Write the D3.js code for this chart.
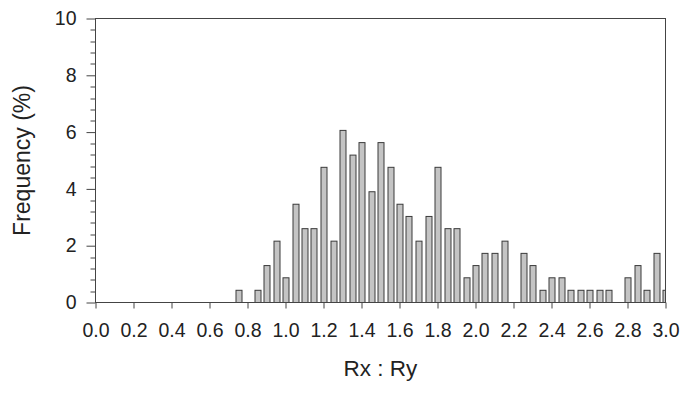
<!DOCTYPE html>
<html>
<head>
<meta charset="utf-8">
<script src="https://cdn.jsdelivr.net/npm/d3@7"></script>
<style>
  body { margin: 0; background: #fff; }
  svg { display: block; font-family: "Liberation Sans", Arial, sans-serif; }
</style>
</head>
<body>
<div id="chart"></div>
<script>
// DATA
const binCenters = [0.75, 0.85, 0.90, 0.95, 1.00, 1.05, 1.10, 1.15, 1.20, 1.25,
  1.30, 1.35, 1.40, 1.45, 1.50, 1.55, 1.60, 1.65, 1.70, 1.75,
  1.80, 1.85, 1.90, 1.95, 2.00, 2.05, 2.10, 2.15, 2.25, 2.30,
  2.35, 2.40, 2.45, 2.50, 2.55, 2.60, 2.65, 2.70, 2.80, 2.85,
  2.90, 2.95, 3.00];
const frequencies = [0.43, 0.43, 1.30, 2.16, 0.87, 3.46, 2.60, 2.60, 4.76, 2.16,
  6.06, 5.19, 5.63, 3.90, 5.63, 4.76, 3.46, 3.03, 2.16, 3.03,
  4.76, 2.60, 2.60, 0.87, 1.30, 1.73, 1.73, 2.16, 1.73, 1.30,
  0.43, 0.87, 0.87, 0.43, 0.43, 0.43, 0.43, 0.43, 0.87, 1.30,
  0.43, 1.73, 0.43];
const xTickValues = [0, 0.2, 0.4, 0.6, 0.8, 1.0, 1.2, 1.4, 1.6, 1.8, 2.0, 2.2, 2.4, 2.6, 2.8, 3.0];
const yTickValues = [0, 2, 4, 6, 8, 10];
const yMinorTicks = [0.4, 0.8, 1.2, 1.6, 2.4, 2.8, 3.2, 3.6, 4.4, 4.8, 5.2, 5.6,
  6.4, 6.8, 7.2, 7.6, 8.4, 8.8, 9.2, 9.6];

const bins = binCenters.map((c, i) => ({ x: c, f: frequencies[i] }));

// LAYOUT
const width = 684, height = 394;
const margin = { left: 95.5, right: 18.5, top: 18.5, bottom: 91.5 };
const innerW = width - margin.left - margin.right;
const innerH = height - margin.top - margin.bottom;

const x = d3.scaleLinear().domain([0, 3]).range([0, innerW]);
const y = d3.scaleLinear().domain([0, 10]).range([innerH, 0]);
const barW = 6;

const svg = d3.select("#chart").append("svg")
    .attr("width", width)
    .attr("height", height);

svg.append("defs").append("clipPath")
    .attr("id", "plot-clip")
  .append("rect")
    .attr("width", innerW)
    .attr("height", innerH);

const g = svg.append("g")
    .attr("transform", `translate(${margin.left},${margin.top})`);

// bars
g.append("g")
    .attr("clip-path", "url(#plot-clip)")
  .selectAll("rect")
  .data(bins)
  .join("rect")
    .attr("x", d => Math.round(x(d.x) - barW / 2) + 0.5)
    .attr("y", d => y(d.f))
    .attr("width", barW)
    .attr("height", d => innerH - y(d.f))
    .attr("fill", "#c4c4c4")
    .attr("stroke", "#3a3a3a")
    .attr("stroke-width", 1);

// x axis
const xAxis = g.append("g")
    .attr("transform", `translate(0,${innerH})`)
    .call(d3.axisBottom(x).tickValues(xTickValues).tickSize(6).tickPadding(9)
      .tickFormat(d3.format(".1f")));
xAxis.select(".domain").remove();
xAxis.selectAll("text")
    .attr("font-size", 19.5)
    .attr("fill", "#222")
    .attr("dy", null)
    .attr("y", 34);
xAxis.selectAll("line").attr("stroke", "#444");

// y axis
const yAxis = g.append("g")
    .call(d3.axisLeft(y).tickValues(yTickValues).tickSize(9).tickPadding(10));
yAxis.select(".domain").remove();
yAxis.selectAll("text").attr("font-size", 19.5).attr("fill", "#222");
yAxis.selectAll("line").attr("stroke", "#444");

g.append("g")
  .selectAll("line")
  .data(yMinorTicks)
  .join("line")
    .attr("x1", -5)
    .attr("x2", 0)
    .attr("y1", d => Math.round(y(d)) + 0.5)
    .attr("y2", d => Math.round(y(d)) + 0.5)
    .attr("stroke", "#444");

// frame
g.append("rect")
    .attr("width", innerW)
    .attr("height", innerH)
    .attr("fill", "none")
    .attr("stroke", "#444")
    .attr("stroke-width", 1);

// axis titles
svg.append("text")
    .attr("x", margin.left + innerW / 2)
    .attr("y", 376)
    .attr("text-anchor", "middle")
    .attr("font-size", 22.5)
    .attr("fill", "#222")
    .text("Rx : Ry");

svg.append("text")
    .attr("transform", `translate(30,${margin.top + innerH / 2}) rotate(-90)`)
    .attr("text-anchor", "middle")
    .attr("font-size", 23)
    .attr("fill", "#222")
    .text("Frequency (%)");
</script>
</body>
</html>
